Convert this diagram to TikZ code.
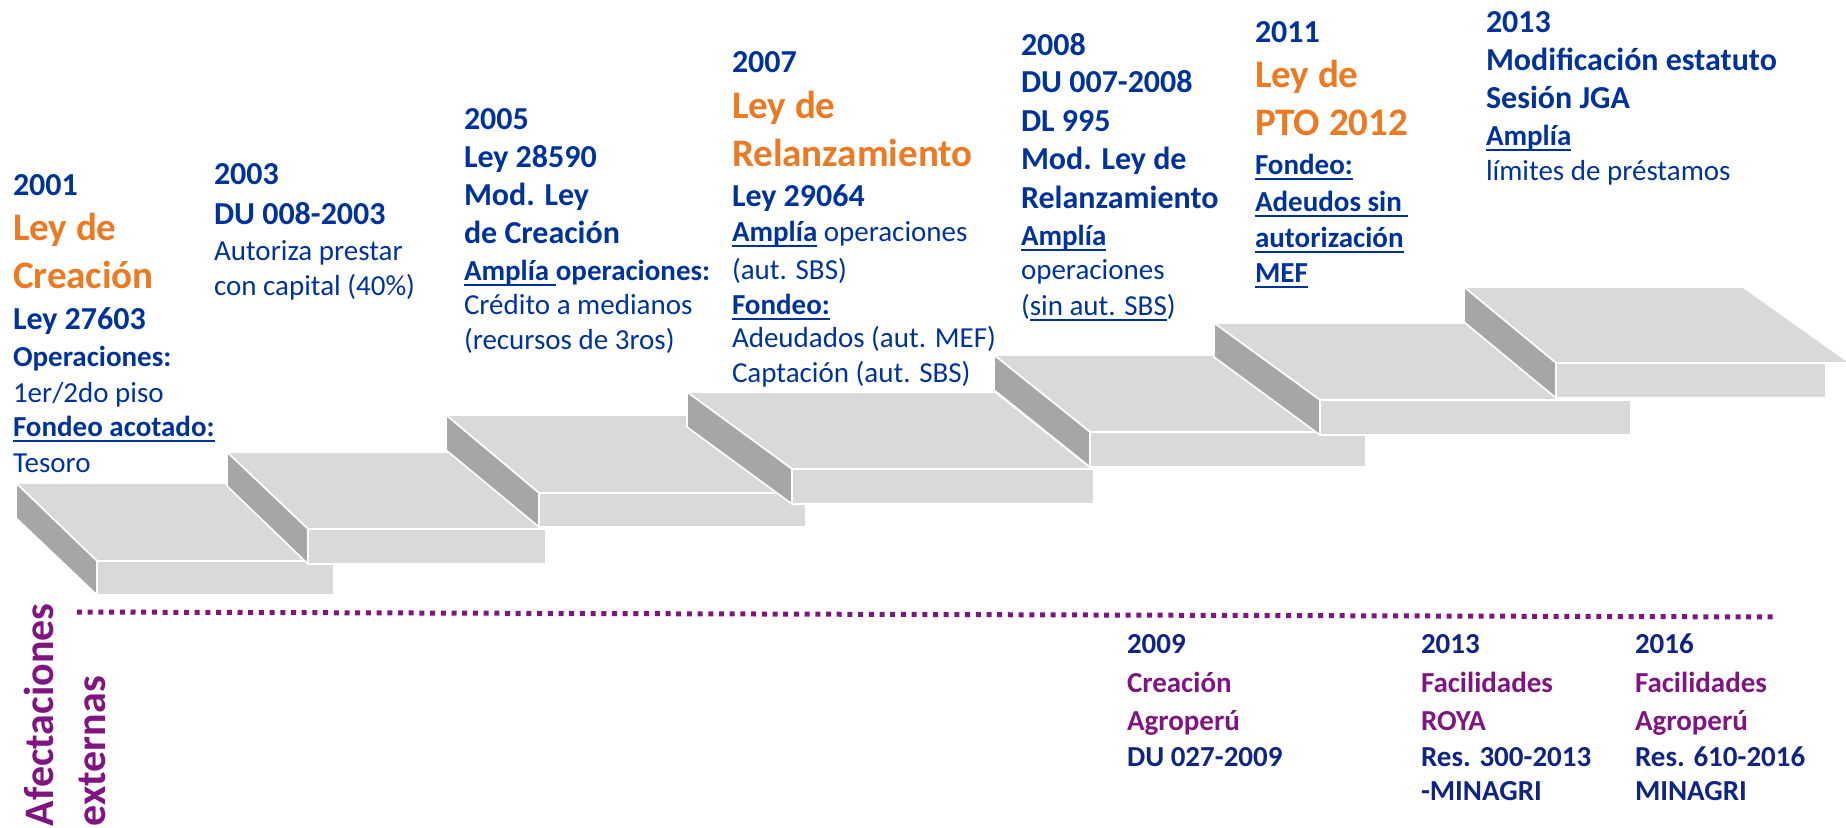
\documentclass[tikz,border=0pt]{standalone}
\usepackage{fontspec}
\setmainfont{Carlito}
\definecolor{tblue}{RGB}{0,51,153}
\definecolor{nblue}{RGB}{16,36,130}
\definecolor{torange}{RGB}{234,122,36}
\definecolor{tpurple}{RGB}{128,20,128}
\definecolor{lgray}{RGB}{217,217,217}
\definecolor{dgray}{RGB}{166,166,166}
\newsavebox\ulbox
\newcommand\uln[1]{\sbox\ulbox{#1}\rlap{\rule[-2.6pt]{\wd\ulbox}{0.9pt}}\usebox\ulbox}
\tikzset{
  facelight/.style={fill=lgray, draw=white, line width=0.8pt, line join=round},
  facedark/.style={fill=dgray, draw=white, line width=0.8pt, line join=round},
  txt/.style={anchor=base west, inner sep=0pt, outer sep=0pt},
  yr/.style={txt, text=tblue, font=\fontsize{16}{19}\selectfont\bfseries},
  big/.style={txt, text=torange, font=\fontsize{19.5}{23}\selectfont\bfseries},
  lab/.style={txt, text=tblue, font=\fontsize{14.5}{17}\selectfont\bfseries},
  reg/.style={txt, text=tblue, font=\fontsize{14.5}{17}\selectfont},
  ny/.style={txt, text=nblue, font=\fontsize{14.5}{17}\selectfont\bfseries},
  np/.style={txt, text=tpurple, font=\fontsize{14.5}{17}\selectfont\bfseries},
  vert/.style={txt, rotate=90, text=tpurple, font=\fontsize{21}{25}\selectfont\bfseries},
  dotline/.style={draw=tpurple, line width=2.5pt, dash pattern=on 2.5pt off 2.85pt}
}
\begin{document}
\begin{tikzpicture}[x=0.5pt,y=-0.5pt]
\useasboundingbox (0,0) rectangle (1846,828);
% ---- steps ----
\path[facelight] (16,483) -- (253,483) -- (334,561) -- (97,561) -- cycle;
\path[facedark] (16,483) -- (97,561) -- (97,595) -- (16,518) -- cycle;
\path[facelight] (97,561) rectangle (334,595);
\path[facelight] (227,452) -- (465,452) -- (546,529) -- (308,529) -- cycle;
\path[facedark] (227,452) -- (308,529) -- (308,564) -- (227,486) -- cycle;
\path[facelight] (308,529) rectangle (546,564);
\path[facelight] (446,415) -- (713,415) -- (806,493) -- (539,493) -- cycle;
\path[facedark] (446,415) -- (539,493) -- (539,527) -- (446,450) -- cycle;
\path[facelight] (539,493) rectangle (806,527);
\path[facelight] (687,392) -- (995,392) -- (1092,469) -- (792,469) -- cycle;
\path[facedark] (687,392) -- (792,469) -- (792,504) -- (687,427) -- cycle;
\path[facelight] (792,469) rectangle (1094,504);
\path[facelight] (994,355) -- (1270,355) -- (1366,432) -- (1090,432) -- cycle;
\path[facedark] (994,355) -- (1090,432) -- (1090,467) -- (994,390) -- cycle;
\path[facelight] (1090,432) rectangle (1366,467);
\path[facelight] (1214,323) -- (1531,323) -- (1631,400) -- (1320,400) -- cycle;
\path[facedark] (1214,323) -- (1320,400) -- (1320,435) -- (1214,357) -- cycle;
\path[facelight] (1320,400) rectangle (1631,435);
\path[facelight] (1464,287) -- (1743,287) -- (1850,363) -- (1556,363) -- cycle;
\path[facedark] (1464,287) -- (1556,363) -- (1556,398) -- (1464,322) -- cycle;
\path[facelight] (1556,363) rectangle (1826,398);
% ---- dotted separator ----
\coordinate (dl) at (77,612);
\coordinate (dr) at (1774,617);
\draw[dotline] (dl) -- (dr);
% ---- block 2001 ----
\node[yr] (a1) at (13,196) {2001};
\node[big] (a2) at (13,241) {Ley de};
\node[big] (a3) at (13,289) {Creación};
\node[yr] (a4) at (13,330) {Ley 27603};
\node[lab] (a5) at (13,367) {Operaciones:};
\node[reg] (a6) at (13,402) {1er/2do piso};
\node[lab] (a7) at (13,437) {\uln{Fondeo acotado:}};
\node[reg] (a8) at (13,472) {Tesoro};
% ---- block 2003 ----
\node[yr] (b1) at (214,185) {2003};
\node[yr] (b2) at (214,225) {DU 008-2003};
\node[reg] (b3) at (214,261) {Autoriza prestar};
\node[reg] (b4) at (214,296) {con capital (40\%)};
% ---- block 2005 ----
\node[yr] (c1) at (464,130) {2005};
\node[yr] (c2) at (464,168) {Ley 28590};
\node[yr] (c3) at (464,206) {Mod. Ley};
\node[yr] (c4) at (464,244) {de Creación};
\node[lab] (c5) at (464,281) {\uln{Amplía }operaciones:};
\node[reg] (c6) at (464,315) {Crédito a medianos};
\node[reg] (c7) at (464,350) {(recursos de 3ros)};
% ---- block 2007 ----
\node[yr] (d1) at (732,73) {2007};
\node[big] (d2) at (732,119) {Ley de};
\node[big] (d3) at (732,167) {Relanzamiento};
\node[yr] (d4) at (732,207) {Ley 29064};
\node[reg] (d5) at (732,242) {\textbf{\uln{Amplía}} operaciones};
\node[reg] (d6) at (732,280) {(aut. SBS)};
\node[lab] (d7) at (732,315) {\uln{Fondeo:}};
\node[reg] (d8) at (732,348) {Adeudados (aut. MEF)};
\node[reg] (d9) at (732,383) {Captación (aut. SBS)};
% ---- block 2008 ----
\node[yr] (e1) at (1021,56) {2008};
\node[yr] (e2) at (1021,93) {DU 007-2008};
\node[yr] (e3) at (1021,132) {DL 995};
\node[yr] (e4) at (1021,170) {Mod. Ley de};
\node[yr] (e5) at (1021,209) {Relanzamiento};
\node[lab] (e6) at (1021,246) {\uln{Amplía}};
\node[reg] (e7) at (1021,280) {operaciones};
\node[reg] (e8) at (1021,316) {(\uln{sin aut. SBS})};
% ---- block 2011 ----
\node[yr] (f1) at (1255,43) {2011};
\node[big] (f2) at (1255,88) {Ley de};
\node[big] (f3) at (1255,136) {PTO 2012};
\node[lab] (f4) at (1255,175) {\uln{Fondeo:}};
\node[lab] (f5) at (1255,212) {\uln{Adeudos sin }};
\node[lab] (f6) at (1255,248) {\uln{autorización}};
\node[lab] (f7) at (1255,283) {\uln{MEF}};
% ---- block 2013 ----
\node[yr] (g1) at (1486,33) {2013};
\node[yr] (g2) at (1486,71) {Modificación estatuto};
\node[yr] (g3) at (1486,109) {Sesión JGA};
\node[lab] (g4) at (1486,146) {\uln{Amplía}};
\node[reg] (g5) at (1486,181) {límites de préstamos};
% ---- external effects ----
\node[vert] (v1) at (53,826) {Afectaciones};
\node[vert] (v2) at (105,826) {externas};
\node[ny] (h1) at (1127,653) {2009};
\node[np] (h2) at (1127,692) {Creación};
\node[np] (h3) at (1127,730) {Agroperú};
\node[ny] (h4) at (1127,766) {DU 027-2009};
\node[ny] (i1) at (1421,653) {2013};
\node[np] (i2) at (1421,692) {Facilidades};
\node[np] (i3) at (1421,730) {ROYA};
\node[ny] (i4) at (1421,766) {Res. 300-2013};
\node[ny] (i5) at (1421,800) {-MINAGRI};
\node[ny] (j1) at (1635,653) {2016};
\node[np] (j2) at (1635,692) {Facilidades};
\node[np] (j3) at (1635,730) {Agroperú};
\node[ny] (j4) at (1635,766) {Res. 610-2016};
\node[ny] (j5) at (1635,800) {MINAGRI};
\end{tikzpicture}
\end{document}
